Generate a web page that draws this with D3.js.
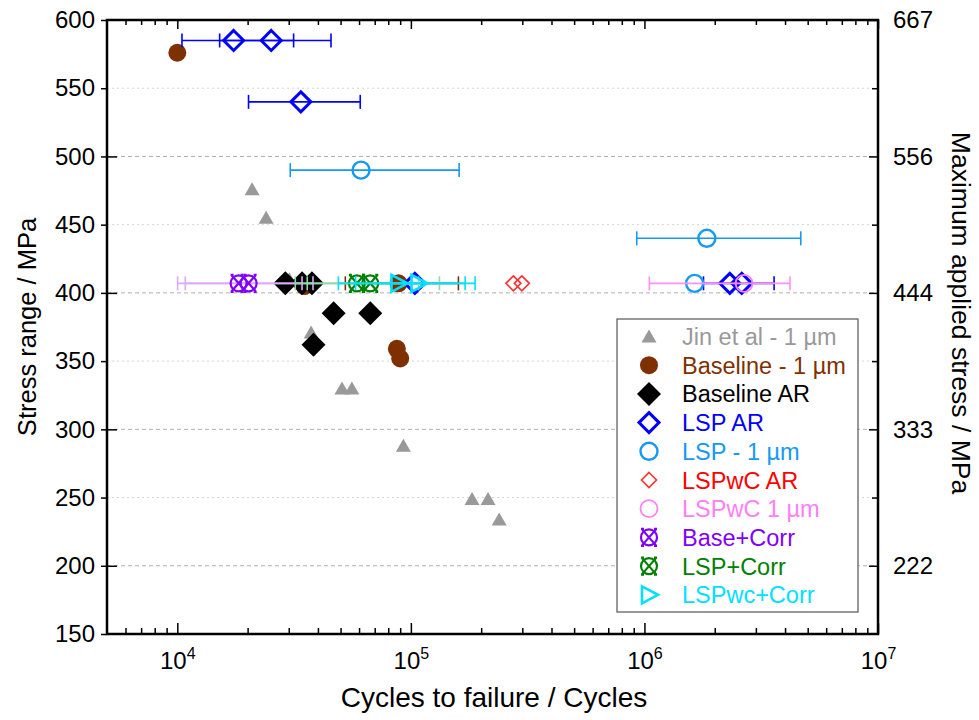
<!DOCTYPE html>
<html><head><meta charset="utf-8">
<script src="https://cdn.jsdelivr.net/npm/d3@7"></script>
<style>
body{margin:0;background:#fff}
text{font-family:"Liberation Sans",Arial,sans-serif}
</style>
</head><body>
<svg id="chart" width="979" height="720"></svg>
<script>
// ---- S-N data: cycles to failure vs stress range (MPa) ----
const jinCycles = [20900, 24000, 30200, 37900, 37400, 50700, 55900, 92900, 182800, 214000, 238800];
const jinStress = [476, 455, 410, 410, 371, 330, 330, 288, 249, 249, 234];

const base1Cycles = [10000, 35000, 87100, 90000, 88500];
const base1Stress = [576, 405, 359, 352, 407];
const base1ErrLo  = [null, null, null, null, 52400];
const base1ErrHi  = [null, null, null, null, 159800];

const baseArCycles = [29000, 34200, 37700, 46700, 67000, 38300];
const baseArStress = [407, 407, 407, 385, 385, 362];

const lspArCycles = [17420, 25240, 33800, 104000, 2320000, 2610000];
const lspArStress = [585, 585, 540, 407, 407, 407];
const lspArErrLo  = [10470, 15180, 20180, null, 1790000, null];
const lspArErrHi  = [31470, 45500, 60700, null, 3590000, null];

const lsp1Cycles = [61200, 1850000, 1640000];
const lsp1Stress = [490, 440, 407];
const lsp1ErrLo  = [30450, 927000, null];
const lsp1ErrHi  = [160900, 4670000, null];

const lspwcArCycles = [274800, 298600];
const lspwcArStress = [407, 407];

const lspwc1Cycles = [2670000];
const lspwc1Stress = [407];
const lspwc1ErrLo  = [1050000];
const lspwc1ErrHi  = [4200000];

const baseCorrCycles = [18300, 20200];
const baseCorrStress = [407, 407];
const baseCorrErrLo  = [10030, 10820];
const baseCorrErrHi  = [34200, 38100];

const lspCorrCycles = [58750, 67000];
const lspCorrStress = [407, 407];
const lspCorrErrLo  = [32000, 36000];
const lspCorrErrHi  = [108000, 132500];

const lspwcCorrCycles = [88500, 107800];
const lspwcCorrStress = [407, 407];
const lspwcCorrErrLo  = [48950, 58000];
const lspwcCorrErrHi  = [170700, 188400];

const legendLabels = ["Jin et al - 1 \u00b5m", "Baseline - 1 \u00b5m", "Baseline AR", "LSP AR",
  "LSP - 1 \u00b5m", "LSPwC AR", "LSPwC 1 \u00b5m", "Base+Corr", "LSP+Corr", "LSPwc+Corr"];

const yTicks = [150, 200, 250, 300, 350, 400, 450, 500, 550, 600];
const xMajor = [1e4, 1e5, 1e6, 1e7];
const R_RATIO = 0.1; // max stress = range / (1 - R)

// ---- layout ----
const svg = d3.select("#chart");
const L = 107, R = 878, T = 20, B = 634;
const x = d3.scaleLog().domain([5000, 1e7]).range([L, R]);
const y = d3.scaleLinear().domain([150, 600]).range([B, T]);
const yR = d3.scaleLinear().domain([150 / (1 - R_RATIO), 600 / (1 - R_RATIO)]).range([B, T]);

// grid lines
const grid = svg.append("g");
yTicks.filter(v => v > 150 && v < 600).forEach(v => {
  const major = v % 100 === 0;
  grid.append("line").attr("x1", L).attr("x2", R).attr("y1", y(v)).attr("y2", y(v))
    .attr("stroke", major ? "#b0b0b0" : "#d4d4d4").attr("stroke-width", 1)
    .attr("stroke-dasharray", major ? "4,3" : "2,3");
});

// log minor ticks
const xMinor = [];
for (let e = 3; e <= 6; e++) for (let m = 2; m <= 9; m++) {
  const v = m * Math.pow(10, e);
  if (v > 5000 && v < 1e7) xMinor.push(v);
}

function styleAxis(g) {
  g.select(".domain").remove();
  g.selectAll("line").attr("stroke", "#000").attr("stroke-width", 1.5);
}

// bottom axis
svg.append("g").attr("transform", `translate(0,${B})`)
  .call(d3.axisBottom(x).tickValues(xMinor).tickSize(-6).tickFormat(""))
  .call(styleAxis);
const bx = svg.append("g").attr("transform", `translate(0,${B})`)
  .call(d3.axisBottom(x).tickValues(xMajor).tickSize(-11).tickFormat(""))
  .call(styleAxis);
bx.selectAll(".tick").each(function(d) {
  const t = d3.select(this).append("text").attr("y", 35).attr("text-anchor", "middle")
    .attr("fill", "#000").attr("font-size", 24);
  t.append("tspan").text("10");
  t.append("tspan").attr("dy", -10).attr("font-size", 16).text(Math.round(Math.log10(d)));
});

// top axis
svg.append("g").attr("transform", `translate(0,${T})`)
  .call(d3.axisTop(x).tickValues(xMinor).tickSize(-5).tickFormat(""))
  .call(styleAxis);
svg.append("g").attr("transform", `translate(0,${T})`)
  .call(d3.axisTop(x).tickValues(xMajor).tickSize(-9).tickFormat(""))
  .call(styleAxis);

// left axis
const ly = svg.append("g").attr("transform", `translate(${L},0)`)
  .call(d3.axisLeft(y).tickValues(yTicks).tickSize(6).tickPadding(6).tickFormat(d3.format("d")))
  .call(styleAxis);
ly.selectAll("text").attr("font-size", 24).attr("fill", "#000");
svg.append("g").attr("transform", `translate(${L},0)`)
  .call(d3.axisLeft(y).tickValues(yTicks.filter(v => v % 100 === 0 && v > 150 && v < 600)).tickSize(-10).tickFormat(""))
  .call(styleAxis);

// right axis (maximum applied stress)
const rMajor = [200, 300, 400, 500, 600].map(v => v / (1 - R_RATIO));
const rMinor = [250, 350, 450, 550].map(v => v / (1 - R_RATIO));
const ry = svg.append("g").attr("transform", `translate(${R},0)`)
  .call(d3.axisRight(yR).tickValues(rMajor).tickSize(-9).tickPadding(15).tickFormat(d3.format(".0f")))
  .call(styleAxis);
ry.selectAll("text").attr("font-size", 24).attr("fill", "#000");
svg.append("g").attr("transform", `translate(${R},0)`)
  .call(d3.axisRight(yR).tickValues(rMinor).tickSize(-6).tickFormat(""))
  .call(styleAxis);

// frame
svg.append("rect").attr("x", L).attr("y", T).attr("width", R - L).attr("height", B - T)
  .attr("fill", "none").attr("stroke", "#000").attr("stroke-width", 2.5);

// axis titles
svg.append("text").attr("x", 494).attr("y", 707).attr("text-anchor", "middle")
  .attr("font-size", 28).text("Cycles to failure / Cycles");
svg.append("text").attr("transform", `translate(36,${(T + B) / 2}) rotate(-90)`)
  .attr("text-anchor", "middle").attr("font-size", 25.5).text("Stress range / MPa");
svg.append("text").attr("transform", `translate(952,313) rotate(90)`)
  .attr("text-anchor", "middle").attr("font-size", 26.5).text("Maximum applied stress / MPa");

// ---- marker painters ----
const markers = {
  jin: (g, c) => g.append("path").attr("d", "M0,-7L7.5,6L-7.5,6Z").attr("fill", c),
  dotFill: (g, c) => g.append("circle").attr("r", 9).attr("fill", c),
  diaFill: (g, c) => g.append("path").attr("d", "M0,-12L12,0L0,12L-12,0Z").attr("fill", c),
  diaOpen: (g, c) => g.append("path").attr("d", "M0,-10L10,0L0,10L-10,0Z").attr("fill", "none").attr("stroke", c).attr("stroke-width", 3),
  circOpen: (g, c) => g.append("circle").attr("r", 8.5).attr("fill", "none").attr("stroke", c).attr("stroke-width", 2.4),
  diaSmall: (g, c) => g.append("path").attr("d", "M0,-7.5L7.5,0L0,7.5L-7.5,0Z").attr("fill", "none").attr("stroke", c).attr("stroke-width", 1.6),
  circThin: (g, c) => g.append("circle").attr("r", 8.5).attr("fill", "none").attr("stroke", c).attr("stroke-width", 1.8),
  crossCirc: (g, c) => {
    g.append("circle").attr("r", 8).attr("fill", "none").attr("stroke", c).attr("stroke-width", 2.2);
    g.append("path").attr("d", "M-7,-8L7,8M7,-8L-7,8M-8,-8.5H-5M5,-8.5H8M-8,8.5H-5M5,8.5H8")
      .attr("fill", "none").attr("stroke", c).attr("stroke-width", 2.2);
  },
  triRight: (g, c) => g.append("path").attr("d", "M-7,-8.5L9,0L-7,8.5Z").attr("fill", "none").attr("stroke", c).attr("stroke-width", 2.6)
};

const series = [
  {label: legendLabels[0], color: "#999999", textColor: "#999999", mark: "jin", xs: jinCycles, ys: jinStress},
  {label: legendLabels[1], color: "#7f3000", textColor: "#7f3000", mark: "dotFill", xs: base1Cycles, ys: base1Stress, lo: base1ErrLo, hi: base1ErrHi, err: "#7f3000"},
  {label: legendLabels[2], color: "#000000", textColor: "#000000", mark: "diaFill", xs: baseArCycles, ys: baseArStress},
  {label: legendLabels[3], color: "#0000ff", textColor: "#0000ff", mark: "diaOpen", xs: lspArCycles, ys: lspArStress, lo: lspArErrLo, hi: lspArErrHi, err: "#0000ff"},
  {label: legendLabels[4], color: "#1599f5", textColor: "#1599f5", mark: "circOpen", xs: lsp1Cycles, ys: lsp1Stress, lo: lsp1ErrLo, hi: lsp1ErrHi, err: "#1599f5"},
  {label: legendLabels[5], color: "#ff3030", textColor: "#ff0000", mark: "diaSmall", xs: lspwcArCycles, ys: lspwcArStress},
  {label: legendLabels[6], color: "#ff80f4", textColor: "#ff80f4", mark: "circThin", xs: lspwc1Cycles, ys: lspwc1Stress, lo: lspwc1ErrLo, hi: lspwc1ErrHi, err: "#ff90f4"},
  {label: legendLabels[7], color: "#8000ff", textColor: "#8000ff", mark: "crossCirc", xs: baseCorrCycles, ys: baseCorrStress, lo: baseCorrErrLo, hi: baseCorrErrHi, err: "#dcaaff"},
  {label: legendLabels[8], color: "#008000", textColor: "#008000", mark: "crossCirc", xs: lspCorrCycles, ys: lspCorrStress, lo: lspCorrErrLo, hi: lspCorrErrHi, err: "#8fd8a8"},
  {label: legendLabels[9], color: "#00e0ff", textColor: "#00e0ff", mark: "triRight", xs: lspwcCorrCycles, ys: lspwcCorrStress, lo: lspwcCorrErrLo, hi: lspwcCorrErrHi, err: "#00e0ff"}
];

// ---- plot ----
const plot = svg.append("g");
series.forEach(s => {
  const g = plot.append("g");
  if (s.lo) {
    s.xs.forEach((_, i) => {
      if (s.lo[i] == null) return;
      const yy = y(s.ys[i]);
      const eg = g.append("g").attr("stroke", s.err).attr("stroke-width", 1.6).attr("fill", "none");
      eg.append("line").attr("x1", x(s.lo[i])).attr("x2", x(s.hi[i])).attr("y1", yy).attr("y2", yy);
      [s.lo[i], s.hi[i]].forEach(v => eg.append("line").attr("x1", x(v)).attr("x2", x(v)).attr("y1", yy - 7).attr("y2", yy + 7));
    });
  }
  s.xs.forEach((v, i) => {
    const mg = g.append("g").attr("transform", `translate(${x(v)},${y(s.ys[i])})`);
    markers[s.mark](mg, s.color);
  });
});

// ---- legend ----
const lg = svg.append("g").attr("transform", "translate(617,319)");
lg.append("rect").attr("width", 241).attr("height", 293).attr("fill", "#fff").attr("stroke", "#555").attr("stroke-width", 1.2);
series.forEach((s, i) => {
  const row = lg.append("g").attr("transform", `translate(0,${17.5 + i * 28.7})`);
  markers[s.mark](row.append("g").attr("transform", "translate(32,0)"), s.color);
  row.append("text").attr("x", 65).attr("y", 8.5).attr("font-size", 23.5).attr("fill", s.textColor).text(s.label);
});
</script>
</body></html>
